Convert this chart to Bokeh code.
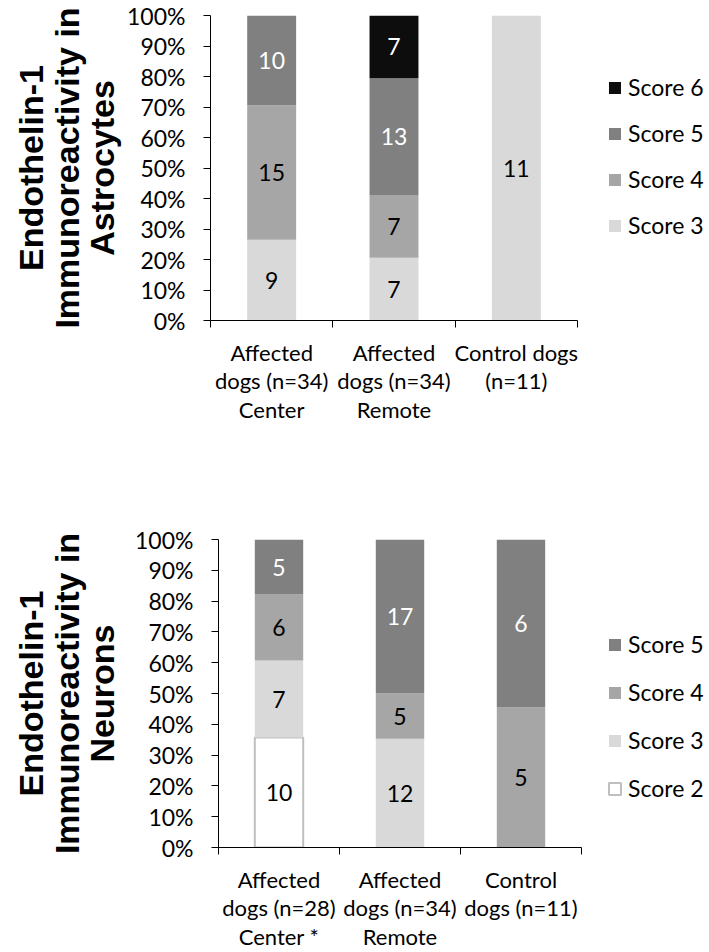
from bokeh.plotting import figure
from bokeh.models import (Range1d, FixedTicker, NumeralTickFormatter, Legend,
                          LegendItem, ColumnDataSource)
from bokeh.embed import file_html
from bokeh.resources import INLINE
from bokeh.core.properties import value

# ---------------- data ----------------
top_categories = ["Affected\ndogs (n=34)\nCenter", "Affected\ndogs (n=34)\nRemote", "Control dogs\n(n=11)"]
top_score3 = [9, 7, 11]
top_score4 = [15, 7, 0]
top_score5 = [10, 13, 0]
top_score6 = [0, 7, 0]

bottom_categories = ["Affected\ndogs (n=28)\nCenter *", "Affected\ndogs (n=34)\nRemote", "Control\ndogs (n=11)"]
bottom_score2 = [10, 0, 0]
bottom_score3 = [7, 12, 0]
bottom_score4 = [6, 5, 5]
bottom_score5 = [5, 17, 6]

y_ticks = [0, 0.1, 0.2, 0.3, 0.4, 0.5, 0.6, 0.7, 0.8, 0.9, 1.0]

STYLE = {
    "Score 2": dict(fill="#ffffff", line="#bfbfbf", text="#000000"),
    "Score 3": dict(fill="#d9d9d9", line=None, text="#000000"),
    "Score 4": dict(fill="#a6a6a6", line=None, text="#000000"),
    "Score 5": dict(fill="#808080", line=None, text="#ffffff"),
    "Score 6": dict(fill="#0d0d0d", line=None, text="#ffffff"),
}

FONT = "Lato"
FS = "23px"
FIG_W = 709


def make_chart(title, categories, series, height, left, top, bottom, cat_px,
               title_standoff, legend_loc, spacing):
    frame_w = FIG_W - left
    x_end = frame_w / cat_px          # leaves room on the right for the legend
    p = figure(width=FIG_W, height=height, output_backend="svg", toolbar_location=None,
               x_range=Range1d(0, x_end), y_range=Range1d(0, 1),
               min_border_left=left, min_border_right=0,
               min_border_top=top, min_border_bottom=bottom)
    p.outline_line_color = None
    p.xgrid.visible = False
    p.ygrid.visible = False
    p.background_fill_color = "white"
    p.border_fill_color = "white"

    ncat = len(categories)
    xs = [i + 0.5 for i in range(ncat)]
    totals = [sum(s[1][i] for s in series) for i in range(ncat)]
    bottoms = [0.0] * ncat
    renderers = {}
    tx, ty, tt, tc = [], [], [], []
    for name, counts in series:
        st = STYLE[name]
        fr = [c / t for c, t in zip(counts, totals)]
        tops = [b + f for b, f in zip(bottoms, fr)]
        src = ColumnDataSource(dict(x=xs, bottom=list(bottoms), top=tops))
        if st["line"]:
            r = p.vbar(x="x", bottom="bottom", top="top", width=0.4, source=src,
                       fill_color=st["fill"], line_color=st["line"], line_width=2)
        else:
            r = p.vbar(x="x", bottom="bottom", top="top", width=0.4, source=src,
                       fill_color=st["fill"], line_color=None)
        renderers[name] = r
        for i, c in enumerate(counts):
            if c > 0:
                tx.append(xs[i])
                ty.append((bottoms[i] + tops[i]) / 2)
                tt.append(str(c))
                tc.append(st["text"])
        bottoms = tops

    p.text(x="x", y="y", text="t", text_color="c",
           source=ColumnDataSource(dict(x=tx, y=ty, t=tt, c=tc)),
           text_font=value(FONT), text_font_size=FS,
           text_align="center", text_baseline="middle")

    # y axis
    ya = p.yaxis[0]
    ya.ticker = FixedTicker(ticks=y_ticks, minor_ticks=[])
    ya.formatter = NumeralTickFormatter(format="0%")
    ya.major_label_text_font = FONT
    ya.major_label_text_font_size = FS
    ya.major_label_text_color = "#000000"
    ya.major_tick_out = 7
    ya.major_tick_in = 0
    ya.minor_tick_out = 0
    ya.major_label_standoff = 18
    ya.axis_line_color = "#000000"
    ya.major_tick_line_color = "#000000"
    ya.axis_label = title
    ya.axis_label_text_font = "Liberation Sans"
    ya.axis_label_text_font_style = "bold"
    ya.axis_label_text_font_size = "34px"
    ya.axis_label_text_color = "#000000"
    ya.axis_label_text_line_height = 0.93
    ya.axis_label_text_align = "center"
    ya.axis_label_standoff = title_standoff

    # x axis
    xa = p.xaxis[0]
    xa.bounds = (0, ncat)
    xa.ticker = FixedTicker(ticks=xs, minor_ticks=list(range(ncat + 1)))
    xa.major_label_overrides = {x: c for x, c in zip(xs, categories)}
    xa.major_label_text_font = FONT
    xa.major_label_text_font_size = "22px"
    xa.major_label_text_color = "#000000"
    xa.major_label_text_line_height = 1.06
    xa.major_tick_out = 0
    xa.major_tick_in = 0
    xa.minor_tick_out = 7
    xa.minor_tick_in = 0
    xa.minor_tick_line_color = "#000000"
    xa.major_label_standoff = 11
    xa.axis_line_color = "#000000"

    items = [LegendItem(label=name, renderers=[renderers[name]]) for name, _ in reversed(series)]
    lg = Legend(items=items, location=legend_loc, orientation="vertical",
                glyph_width=15, glyph_height=15, label_height=28, spacing=spacing,
                label_standoff=6, padding=0, margin=0,
                border_line_color=None, background_fill_alpha=0,
                label_text_font=FONT, label_text_font_size="23px",
                label_text_color="#000000")
    p.add_layout(lg, "center")
    return p


p1 = make_chart("Endothelin-1\nImmunoreactivity in\nAstrocytes", top_categories,
                [("Score 3", top_score3), ("Score 4", top_score4),
                 ("Score 5", top_score5), ("Score 6", top_score6)],
                475, 210, 15, 155, 367 / 3, 3, (397, 81), 18)

p2 = make_chart("Endothelin-1\nImmunoreactivity in\nNeurons", bottom_categories,
                [("Score 2", bottom_score2), ("Score 3", bottom_score3),
                 ("Score 4", bottom_score4), ("Score 5", bottom_score5)],
                477, 218, 64, 103, 363 / 3, 11, (389, 45), 20)

# two independent roots, stacked one below the other on the page
open("out.html", "w").write(file_html([p1, p2], INLINE))
